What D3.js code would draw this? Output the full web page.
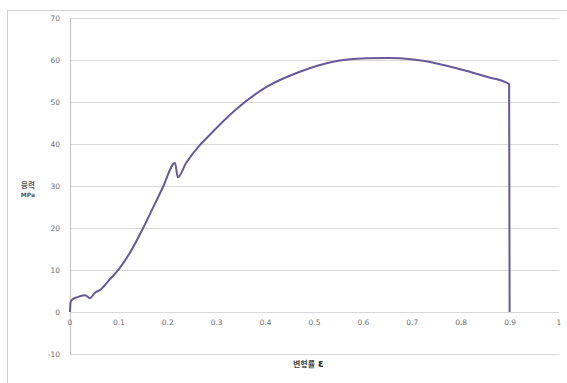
<!DOCTYPE html>
<html lang="ko">
<head>
<meta charset="UTF-8">
<title>응력-변형률</title>
<script src="https://d3js.org/d3.v7.min.js"></script>
<style>
  body { margin: 0; background: #fff; }
  svg { display: block; font-family: "DejaVu Sans", "Noto Sans CJK KR", sans-serif; }
</style>
</head>
<body>
<svg width="567" height="383"></svg>
<script>
// strain (x) and stress in MPa (y)
const strain = [0, 0.001, 0.004, 0.014, 0.031, 0.041, 0.051, 0.061, 0.080, 0.100, 0.125, 0.147, 0.170, 0.190, 0.2147,
  0.2205, 0.237, 0.266, 0.276, 0.334, 0.402, 0.470, 0.538, 0.607, 0.650, 0.675, 0.722, 0.804, 0.852, 0.896, 0.898, 0.899];
const stress = [0, 2.2, 2.9, 3.5, 4.0, 3.3, 4.6, 5.2, 7.6, 10.2, 14.6, 19.4, 24.9, 29.7, 35.5,
  32.1, 35.4, 39.8, 41.0, 47.7, 53.6, 57.2, 59.6, 60.4, 60.5, 60.4, 59.8, 57.6, 56.0, 54.4, 54.2, 0];
const xTicks = [0, 0.1, 0.2, 0.3, 0.4, 0.5, 0.6, 0.7, 0.8, 0.9, 1];
const yTicks = [-10, 0, 10, 20, 30, 40, 50, 60, 70];

const data = strain.map((x, i) => ({x: x, y: stress[i]}));

const svg = d3.select("svg");

// outer chart frame
svg.append("rect")
    .attr("x", 7.5).attr("y", 10.5)
    .attr("width", 600).attr("height", 400)
    .attr("fill", "none")
    .attr("stroke", "#d0d0d0")
    .attr("stroke-width", 1);

const xScale = d3.scaleLinear().domain([0, 1]).range([70, 559]);
const yScale = d3.scaleLinear().domain([-10, 70]).range([354, 18]);

// horizontal gridlines
svg.append("g")
    .selectAll("line")
    .data(yTicks)
    .join("line")
    .attr("x1", xScale(0)).attr("x2", xScale(1))
    .attr("y1", d => Math.round(yScale(d)) + 0.5)
    .attr("y2", d => Math.round(yScale(d)) + 0.5)
    .attr("stroke", "#d9d9d9")
    .attr("stroke-width", 1.2);

// y axis line
svg.append("line")
    .attr("x1", xScale(0) + 0.5).attr("x2", xScale(0) + 0.5)
    .attr("y1", yScale(70)).attr("y2", yScale(-10))
    .attr("stroke", "#c8c8c8")
    .attr("stroke-width", 1.2);

// y tick labels
svg.append("g")
    .selectAll("text")
    .data(yTicks)
    .join("text")
    .attr("x", 60)
    .attr("y", d => yScale(d) + 3)
    .attr("text-anchor", "end")
    .attr("font-size", 7.5)
    .attr("fill", "#707070")
    .text(d => d);

// x tick labels under the zero line
svg.append("g")
    .selectAll("text")
    .data(xTicks)
    .join("text")
    .attr("x", d => xScale(d))
    .attr("y", yScale(0) + 13)
    .attr("text-anchor", "middle")
    .attr("font-size", 7.5)
    .attr("fill", "#707070")
    .text(d => d);

// axis titles
svg.append("text")
    .attr("x", 28).attr("y", 188)
    .attr("text-anchor", "middle")
    .attr("font-size", 7.5)
    .attr("font-weight", "bold")
    .attr("fill", "#555")
    .text("응력");
svg.append("text")
    .attr("x", 28).attr("y", 197)
    .attr("text-anchor", "middle")
    .attr("font-size", 6)
    .attr("font-weight", "bold")
    .attr("fill", "#555")
    .text("MPa");
svg.append("text")
    .attr("x", 293).attr("y", 367)
    .attr("font-size", 8)
    .attr("font-weight", "bold")
    .attr("fill", "#444")
    .text("변형률 ")
  .append("tspan")
    .attr("font-size", 10)
    .attr("fill", "#222")
    .text("ε");

// stress-strain curve
const line = d3.line()
    .x(d => xScale(d.x))
    .y(d => yScale(d.y))
    .curve(d3.curveMonotoneX);

svg.append("path")
    .datum(data)
    .attr("fill", "none")
    .attr("stroke", "#67589a")
    .attr("stroke-width", 2)
    .attr("stroke-linejoin", "round")
    .attr("d", line);
</script>
</body>
</html>
